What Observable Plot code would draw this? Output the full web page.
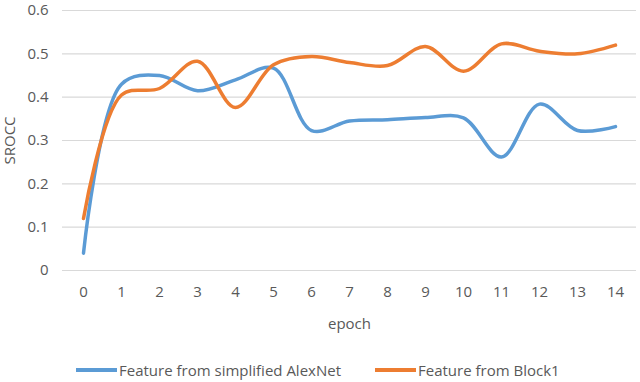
<!DOCTYPE html>
<html>
<head>
<meta charset="utf-8">
<script src="https://cdn.jsdelivr.net/npm/d3@7"></script>
<script src="https://cdn.jsdelivr.net/npm/@observablehq/plot@0.6"></script>
<style>
  body { margin: 0; background: #fff; font-family: "Open Sans", sans-serif; }
  #wrap { position: relative; width: 640px; height: 382px; }
  #legend { position: absolute; top: 360px; left: 76px; display: flex; align-items: center; font-size: 15px; color: #595959; line-height: 20px; white-space: nowrap; }
  .sw { display: inline-block; width: 41px; height: 4px; margin-right: 2px; }
  .item { display: flex; align-items: center; }
</style>
</head>
<body>
<div id="wrap">
  <div id="chart"></div>
  <div id="legend"></div>
</div>
<script>
const epochs = [0, 1, 2, 3, 4, 5, 6, 7, 8, 9, 10, 11, 12, 13, 14];
const alexnet = [0.04, 0.43, 0.45, 0.415, 0.44, 0.467, 0.323, 0.345, 0.348, 0.353, 0.352, 0.262, 0.384, 0.323, 0.332];
const block1 = [0.12, 0.405, 0.42, 0.483, 0.376, 0.475, 0.494, 0.48, 0.473, 0.517, 0.46, 0.523, 0.506, 0.50, 0.52];
const seriesNames = ["Feature from simplified AlexNet", "Feature from Block1"];
const seriesColors = ["#5B9BD5", "#ED7D31"];
const yTicks = [0, 0.1, 0.2, 0.3, 0.4, 0.5, 0.6];

const rows = [];
[alexnet, block1].forEach((vals, si) => {
  vals.forEach((v, i) => rows.push({epoch: epochs[i], value: v, series: seriesNames[si]}));
});

const chart = Plot.plot({
  width: 640,
  height: 340,
  marginTop: 10,
  marginBottom: 70,
  marginLeft: 62,
  marginRight: 4,
  style: { fontFamily: "Open Sans, sans-serif", fontSize: "15px", color: "#595959", background: "#fff" },
  x: { type: "point", domain: epochs, padding: 0.5 },
  y: { domain: [0, 0.6] },
  color: { domain: seriesNames, range: seriesColors },
  marks: [
    Plot.ruleY(yTicks, { stroke: "#d9d9d9", strokeWidth: 1.2 }),
    Plot.axisY({ ticks: yTicks, tickFormat: d => String(d), tickSize: 0, tickPadding: 14, label: "SROCC", labelAnchor: "center", labelOffset: 58, labelArrow: "none", fill: "#595959" }),
    Plot.axisX({ tickSize: 0, tickPadding: 16, label: "epoch", labelAnchor: "center", labelOffset: 58, labelArrow: "none", fill: "#595959" }),
    Plot.line(rows, { x: "epoch", y: "value", z: "series", stroke: "series", strokeWidth: 3.5, curve: "catmull-rom" })
  ]
});
document.getElementById("chart").appendChild(chart);

const legend = document.getElementById("legend");
seriesNames.forEach((name, i) => {
  const item = document.createElement("span");
  item.className = "item";
  item.style.marginRight = i === 0 ? "34px" : "0";
  const sw = document.createElement("span");
  sw.className = "sw";
  sw.style.background = seriesColors[i];
  item.appendChild(sw);
  item.appendChild(document.createTextNode(name));
  legend.appendChild(item);
});
</script>
</body>
</html>
